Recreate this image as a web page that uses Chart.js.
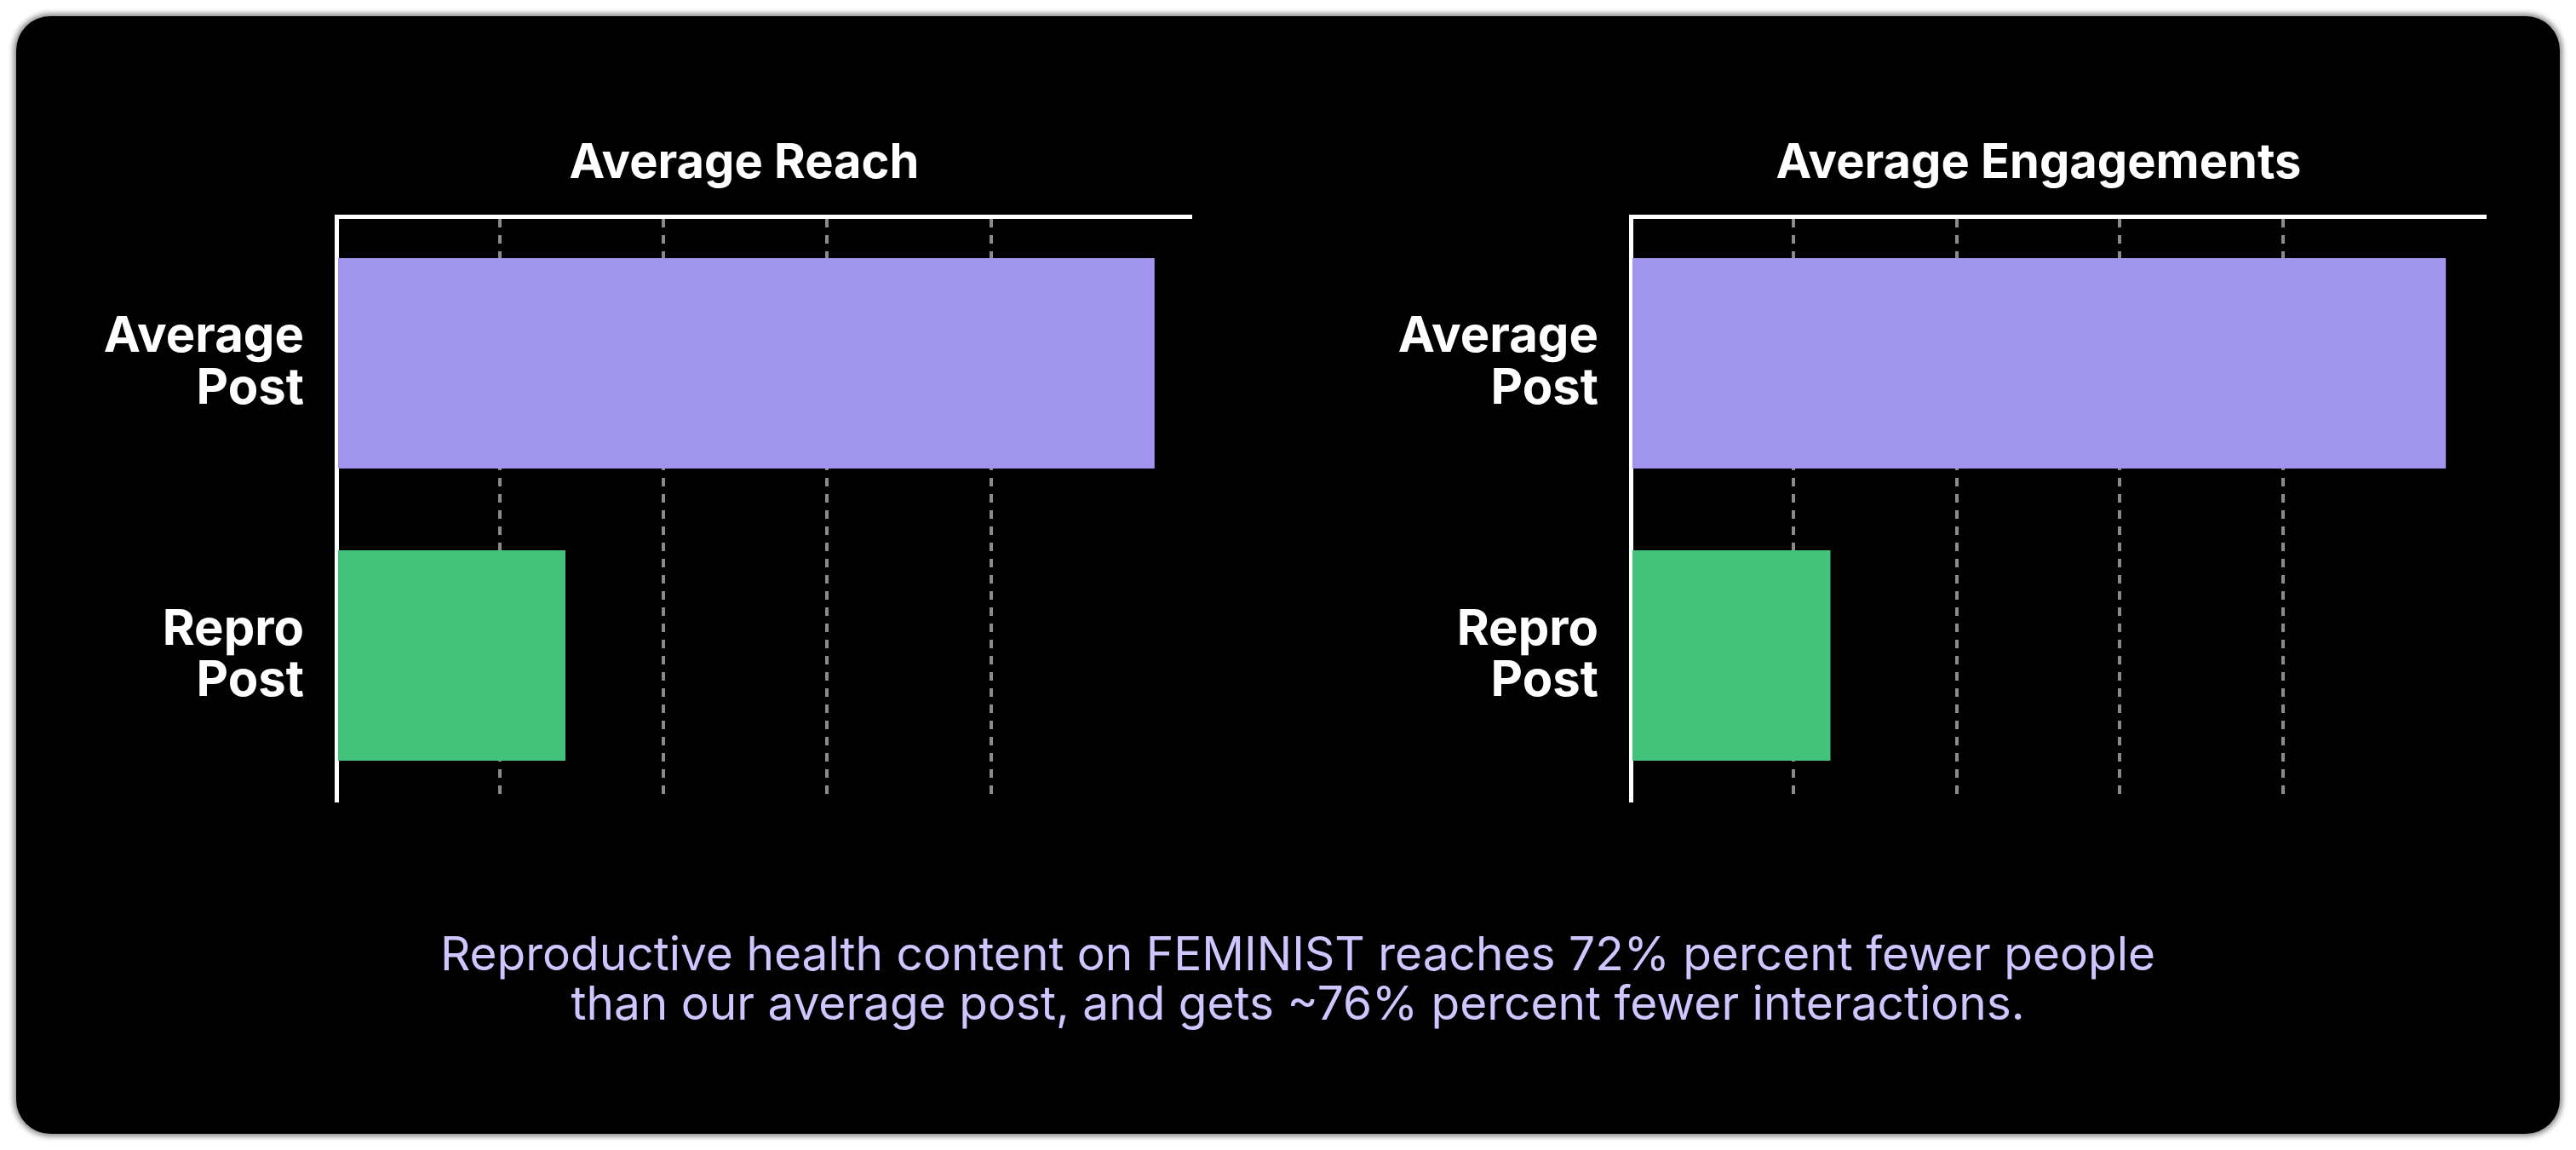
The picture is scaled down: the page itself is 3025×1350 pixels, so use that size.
<!DOCTYPE html>
<html>
<head>
<meta charset="utf-8">
<script src="https://cdn.jsdelivr.net/npm/chart.js@4"></script>
<style>
  body { margin: 0; background: #fff; width: 3025px; height: 1350px; position: relative; font-family: Inter, "Liberation Sans", sans-serif; }
  .panel { position: absolute; left: 19px; top: 19px; width: 2987px; height: 1312px; background: #000; border-radius: 40px; box-shadow: 0 0 6px 3px #888; }
  .box { position: absolute; }
  .title { position: absolute; color: #fff; font-weight: 700; font-size: 56px; transform: translate(-50%, -50%); white-space: nowrap; }
  .caption { position: absolute; left: 0; width: 3048px; top: 1090px; text-align: center; color: #cfc5ff; font-size: 55px; line-height: 58px; }
</style>
</head>
<body>
<div class="panel"></div>
<div class="title" style="left:874px; top:189px;">Average Reach</div>
<div class="title" style="left:2394px; top:189px;">Average Engagements</div>
<div class="box" style="left:40px; top:164px; width:1360px; height:868px;"><canvas id="reachChart"></canvas></div>
<div class="box" style="left:1500px; top:164px; width:1420px; height:868px;"><canvas id="engageChart"></canvas></div>
<div class="caption">Reproductive health content on FEMINIST reaches 72% percent fewer people<br>than our average post, and gets ~76% percent fewer interactions.</div>
<script>
// values (average post = 100)
const data = {
    reach: { labels: [['Average', 'Post'], ['Repro', 'Post']], values: [100, 28], max: 104.6, labelWidth: 355 },
    engage: { labels: [['Average', 'Post'], ['Repro', 'Post']], values: [100, 24.5], max: 105, labelWidth: 415 }
};

function makeChart(id, d) {
    const ctx = document.getElementById(id).getContext('2d');
    return new Chart(ctx, {
        type: 'bar',
        data: {
            labels: d.labels,
            datasets: [{
                data: d.values,
                backgroundColor: ['#a094ee', '#42c27a'],
                barPercentage: 0.72,
                categoryPercentage: 1
            }]
        },
        options: {
            indexAxis: 'y',
            responsive: true,
            maintainAspectRatio: false,
            animation: false,
            layout: { padding: { bottom: 12 } },
            plugins: { legend: { display: false }, tooltip: { enabled: false } },
            scales: {
                x: {
                    position: 'top',
                    min: 0, max: d.max,
                    ticks: { display: false, stepSize: 20 },
                    border: { display: true, color: '#fff', width: 5, dash: [10, 9] },
                    grid: {
                        drawTicks: false,
                        lineWidth: 4,
                        color: c => (c.tick && c.tick.value > 0 && c.tick.value < 100) ? '#8a8a8a' : 'rgba(0,0,0,0)'
                    },
                    afterFit: s => { s.height = 20; }
                },
                y: {
                    ticks: { color: '#fff', font: { family: 'Inter', size: 58, weight: 'bold', lineHeight: 1.05 }, padding: 30 },
                    border: { color: '#fff', width: 5 },
                    grid: { display: false },
                    afterFit: s => { s.width = d.labelWidth; }
                }
            }
        }
    });
}

makeChart('reachChart', data.reach);
makeChart('engageChart', data.engage);
</script>
</body>
</html>
